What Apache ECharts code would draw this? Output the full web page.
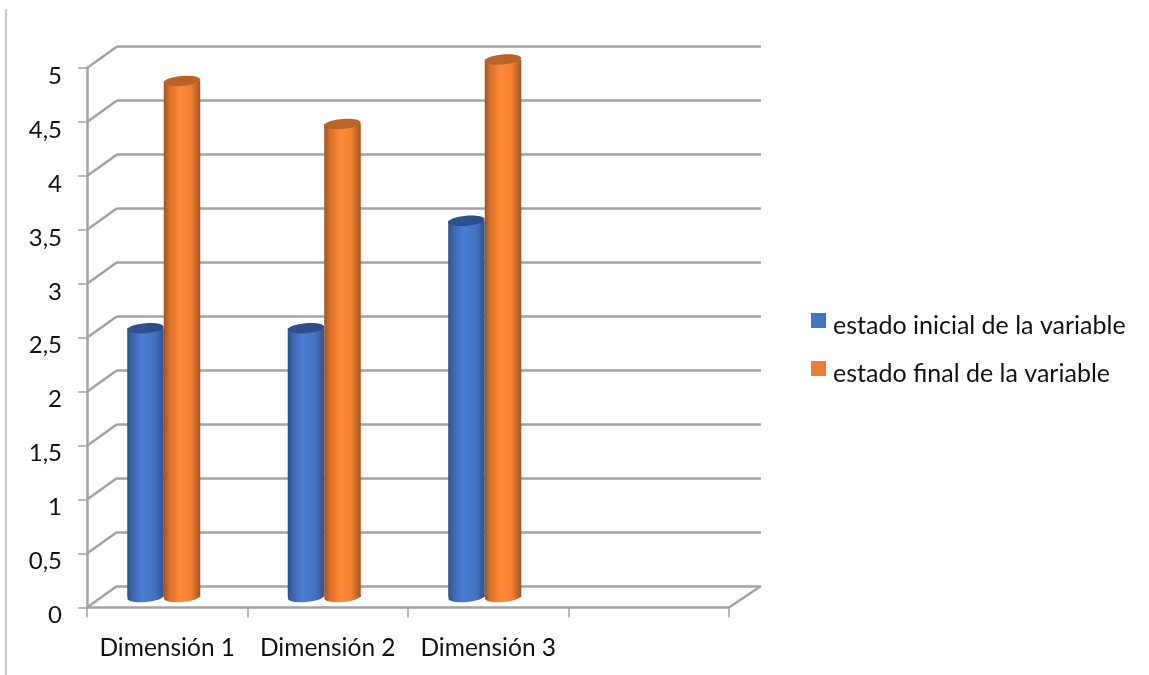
<!DOCTYPE html>
<html><head><meta charset="utf-8">
<style>html,body{margin:0;padding:0;background:#fff}#c{width:1149px;height:675px}</style>
<script src="https://cdn.jsdelivr.net/npm/echarts@6/dist/echarts.min.js"></script>
</head><body><div id="c"></div>
<script>
const categories = ['Dimensión 1', 'Dimensión 2', 'Dimensión 3', ''];
const estadoInicial = [2.5, 2.5, 3.5];
const estadoFinal = [4.8, 4.4, 5];
const seriesNames = ['estado inicial de la variable', 'estado final de la variable'];
const yTicks = [0, 0.5, 1, 1.5, 2, 2.5, 3, 3.5, 4, 4.5, 5];

const FONT = 'Lato';
const TEXT = '#111111';
const GRID_COL = '#a3a3a3';
const DX = 30, DY = -21.5;

function hGrad(stops){
  return {type:'linear',x:0,y:0,x2:1,y2:0,colorStops:stops.map(s=>({offset:s[0],color:s[1]}))};
}
const palettes = [
  {body:hGrad([[0,'#2c4f8c'],[0.12,'#3a64ad'],[0.4,'#4b7dd3'],[0.75,'#4572c2'],[1,'#2f5496']]),
   top:hGrad([[0,'#2d5293'],[1,'#2a4c88']])},
  {body:hGrad([[0,'#9a5520'],[0.15,'#d87029'],[0.45,'#ff8a35'],[0.75,'#f17f30'],[1,'#9c5822']]),
   top:hGrad([[0,'#b9632a'],[1,'#bc6226']])}
];

function cylinder(idx){
  return function(params, api){
    const band = api.size([1,0])[0];
    const w = band * 0.2275;
    const base = api.coord([api.value(0), 0]);
    const top = api.coord([api.value(0), api.value(1)]);
    const cx = base[0] + (idx === 0 ? -w/2 : w/2);
    const ry = 5;
    const tilt = 0.08;
    const p = palettes[idx];
    return {type:'group',children:[
      {type:'ellipse',shape:{cx:cx,cy:base[1],rx:w/2,ry:ry},rotation:tilt,originX:cx,originY:base[1],style:{fill:p.body}},
      {type:'rect',shape:{x:cx-w/2,y:top[1],width:w,height:base[1]-top[1]},style:{fill:p.body}},
      {type:'ellipse',shape:{cx:cx,cy:top[1],rx:w/2,ry:ry},rotation:tilt,originX:cx,originY:top[1],style:{fill:p.top}}
    ]};
  };
}
function toRows(arr){ return arr.map((v,i)=>[i,v]); }

const chart = echarts.init(document.getElementById('c'),null,{renderer:'canvas'});
chart.setOption({
  animation:false,
  backgroundColor:'#fff',
  textStyle:{fontFamily:FONT},
  legend:{
    orient:'vertical',left:806,top:308,itemWidth:15,itemHeight:25,itemGap:23,
    icon:'path://M0 0L15 0L15 15L0 15ZM0 25L0 25',
    data:seriesNames,
    textStyle:{fontFamily:FONT,fontSize:25,color:TEXT,padding:[0,0,0,2]},
    formatter:n=>n
  },
  graphic:[{type:'line',shape:{x1:6,y1:9,x2:6,y2:675},style:{stroke:'#b5b5b5',lineWidth:1.5},silent:true}],
  grid:[
    {left:87,top:68,width:642,height:539.5},
    {left:117,top:46,width:644,height:540},
    {left:83.5,top:59.5,width:642,height:537.5},
    {left:87,top:76,width:642,height:539.5}
  ],
  xAxis:[
    {gridIndex:0,type:'category',data:categories,boundaryGap:true,
     axisLine:{lineStyle:{color:GRID_COL,width:2.5}},
     axisTick:{show:true,alignWithLabel:false,length:10,lineStyle:{color:GRID_COL,width:1.5}},
     axisLabel:{show:true,interval:0,margin:28,fontFamily:FONT,fontSize:24.5,color:TEXT}},
    {gridIndex:1,type:'category',data:categories,axisLine:{show:false},axisTick:{show:false},axisLabel:{show:false}},
    {gridIndex:2,type:'category',data:categories,axisLine:{show:false},axisTick:{show:false},axisLabel:{show:false}},
    {gridIndex:3,type:'category',data:categories,axisLine:{show:false},axisTick:{show:false},axisLabel:{show:false}}
  ],
  yAxis:[
    {gridIndex:0,type:'value',min:0,max:5,interval:0.5,
     axisLine:{show:true,lineStyle:{color:GRID_COL,width:2.5}},
     axisTick:{show:true,length:9,lineStyle:{color:GRID_COL,width:1.5}},
     splitLine:{show:false},axisLabel:{show:false}},
    {gridIndex:1,type:'value',min:0,max:5,interval:0.5,
     axisLine:{show:false},axisTick:{show:false},axisLabel:{show:false},
     splitLine:{show:true,lineStyle:{color:GRID_COL,width:2.5}}},
    {gridIndex:2,type:'value',min:0,max:5,interval:0.5,
     axisLine:{show:false},axisTick:{show:false},axisLabel:{show:false},splitLine:{show:false}},
    {gridIndex:3,type:'value',min:0,max:5,interval:0.5,
     axisLine:{show:false},axisTick:{show:false},splitLine:{show:false},
     axisLabel:{margin:25,fontFamily:FONT,fontSize:24,color:TEXT,
       formatter:v=>String(v).replace('.',',')}}
  ],
  series:[
    {type:'custom',name:'wallLeft',xAxisIndex:0,yAxisIndex:0,silent:true,z:1,clip:false,
     data:yTicks.map(v=>[0,v]),
     renderItem(params,api){
       const band = api.size([1,0])[0];
       const p = api.coord([0,api.value(1)]);
       const x = p[0]-band/2;
       return {type:'line',shape:{x1:x,y1:p[1],x2:x+DX,y2:p[1]+DY},style:{stroke:GRID_COL,lineWidth:2.5}};
     }},
    {type:'custom',name:'floorRight',xAxisIndex:0,yAxisIndex:0,silent:true,z:1,clip:false,
     data:[[3,0]],
     renderItem(params,api){
       const band = api.size([1,0])[0];
       const p = api.coord([3,0]);
       const x = p[0]+band/2;
       return {type:'line',shape:{x1:x,y1:p[1],x2:x+DX+2,y2:p[1]+DY},style:{stroke:GRID_COL,lineWidth:2.5}};
     }},
    {type:'custom',name:seriesNames[0],xAxisIndex:2,yAxisIndex:2,z:3,clip:false,silent:true,
     itemStyle:{color:'#4472C4'},data:toRows(estadoInicial),renderItem:cylinder(0)},
    {type:'custom',name:seriesNames[1],xAxisIndex:2,yAxisIndex:2,z:4,clip:false,silent:true,
     itemStyle:{color:'#ED7D31'},data:toRows(estadoFinal),renderItem:cylinder(1)}
  ]
});
</script></body></html>
